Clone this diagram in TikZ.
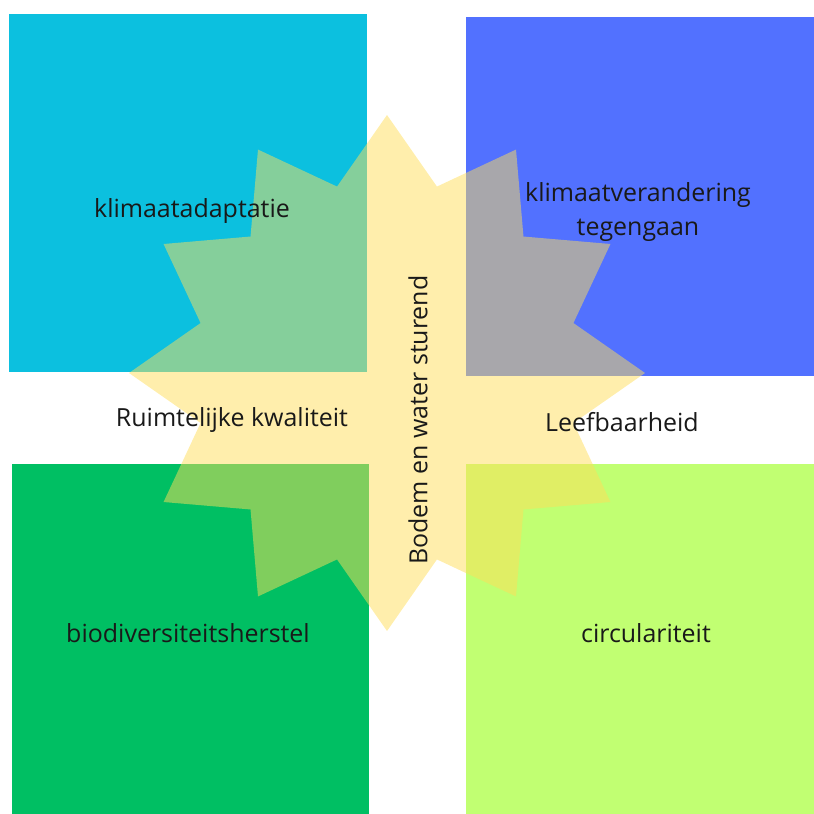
\documentclass[tikz,border=0pt]{standalone}
\usepackage{fontspec}
\setmainfont{Open Sans}
\definecolor{adaptcyan}{HTML}{0CC0DF}
\definecolor{mitigblue}{HTML}{5271FF}
\definecolor{biogreen}{HTML}{00BF63}
\definecolor{circlime}{HTML}{C1FF72}
\definecolor{staryellow}{HTML}{FFDE59}
\tikzstyle{tile}=[draw=none]
\tikzstyle{star fill}=[fill=staryellow,fill opacity=0.5,draw=none]
\tikzstyle{area text}=[font=\fontsize{21.3}{29}\selectfont,text=black!90,align=center,inner sep=0pt]

\begin{document}
\begin{tikzpicture}[x=0.03cm, y=-0.03cm]
	\useasboundingbox (0,0) rectangle (814,814);
	\foreach \xa/\ya/\xb/\yb/\col in {9/14/367/372/adaptcyan, 466/17/814/376/mitigblue,
                            12/464/369/814/biogreen, 466/464/814/814/circlime}
        \fill[tile,\col] (\xa,\ya) rectangle (\xb,\yb);

    % twelve-point star
    \fill[star fill, shift={(387,373)}] (90:258)
        \foreach \i in {0,...,11} { -- ({105+30*\i}:193) -- ({120+30*\i}:258) } -- cycle;

	\node[area text] (adapt) at (192,211) {klimaatadaptatie};
	\node[area text] (mitig) at (638,212) {klimaatverandering\\tegengaan};
	\node[area text] (ruimte) at (232,420) {Ruimtelijke kwaliteit};
	\node[area text] (leef) at (622,422) {Leefbaarheid};
	\node[area text] (bio) at (188,633) {biodiversiteitsherstel};
	\node[area text] (circ) at (646,633) {circulariteit};
	\node[area text, rotate=90] (bodem) at (418,420) {Bodem en water sturend};
\end{tikzpicture}
\end{document}
